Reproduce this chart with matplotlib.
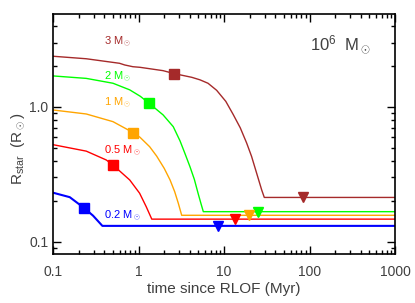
import matplotlib
matplotlib.use("Agg")
import matplotlib.pyplot as plt
from matplotlib.ticker import LogLocator, FixedLocator, NullFormatter, FixedFormatter

plt.rcParams['font.family'] = ['Liberation Sans', 'DejaVu Sans']
plt.rcParams['mathtext.fontset'] = 'custom'
plt.rcParams['mathtext.rm'] = 'Liberation Sans'
plt.rcParams['mathtext.it'] = 'Liberation Sans'

# ---- data ----
masses = ["3", "2", "1", "0.5", "0.2"]
colors = ["#A52A2A", "#00FF00", "#FFA500", "#FF0000", "#0000FF"]

t_3 = [0.1, 0.245, 0.6, 0.69, 0.86, 1.04, 1.94, 2.6, 4.2, 5.24, 6.5, 8.2, 10.5, 12.8, 15.5, 18.4, 21.0, 24.1, 27.6, 29.6, 1000]
r_3 = [2.38, 2.28, 2.11, 2.05, 1.99, 1.97, 1.86, 1.77, 1.66, 1.59, 1.50, 1.33, 1.10, 0.88, 0.70, 0.54, 0.43, 0.322, 0.242, 0.213, 0.213]

t_2 = [0.1, 0.245, 0.503, 0.789, 1.05, 1.33, 1.94, 2.55, 3.06, 3.5, 4.0, 4.5, 5.0, 5.4, 5.73, 1000]
r_2 = [1.70, 1.63, 1.50, 1.34, 1.20, 1.065, 0.873, 0.714, 0.560, 0.45, 0.36, 0.29, 0.226, 0.19, 0.167, 0.167]

t_1 = [0.1, 0.245, 0.503, 0.87, 1.04, 1.35, 1.63, 2.0, 2.34, 2.65, 2.92, 3.2, 1000]
r_1 = [0.95, 0.887, 0.778, 0.644, 0.596, 0.507, 0.432, 0.35, 0.287, 0.235, 0.193, 0.157, 0.157]

t_05 = [0.1, 0.245, 0.42, 0.5, 0.79, 1.03, 1.23, 1.43, 1000]
r_05 = [0.525, 0.47, 0.404, 0.372, 0.287, 0.229, 0.182, 0.147, 0.147]

t_02 = [0.1, 0.157, 0.228, 0.294, 0.378, 1000]
r_02 = [0.231, 0.214, 0.179, 0.156, 0.131, 0.131]

sq_t = [2.6, 1.33, 0.87, 0.5, 0.228]
sq_r = [1.77, 1.065, 0.644, 0.372, 0.179]

tri_t = [83, 25.2, 19.4, 13.4, 8.4]
tri_r = [0.213, 0.167, 0.157, 0.147, 0.131]

label_y = [3.04, 1.67, 1.07, 0.474, 0.156]
label_x = 0.39

times = [t_3, t_2, t_1, t_05, t_02]
radii = [r_3, r_2, r_1, r_05, r_02]
lws = [1.0, 1.0, 1.0, 1.0, 1.5]

fig = plt.figure(figsize=(4.15, 3.03), dpi=100)
ax = fig.add_axes([53/415, 1-254/303, (395-53)/415, (254-14)/303])

for t, r, c, lw in zip(times, radii, colors, lws):
    ax.plot(t, r, color=c, lw=lw)
for i, c in enumerate(colors):
    ax.plot(sq_t[i], sq_r[i], marker='s', ms=7, color=c, ls='none')
    ax.plot(tri_t[i], tri_r[i], marker='v', ms=6.5, color=c, ls='none')
    ax.text(label_x, label_y[i], masses[i] + r' M$_\odot$', color=c,
            fontsize=8, ha='left', va='center')

ax.text(0.842, 0.87, r'10$^6$  M$_\odot$', transform=ax.transAxes,
        fontsize=12, ha='center', va='center', color='#404040')

ax.set_xscale('log')
ax.set_yscale('log')
ax.set_xlim(0.1, 1000)
ax.set_ylim(0.081, 4.9)

ax.xaxis.set_major_locator(FixedLocator([0.1, 1, 10, 100, 1000]))
ax.xaxis.set_major_formatter(FixedFormatter(['0.1', '1', '10', '100', '1000']))
ax.xaxis.set_minor_locator(LogLocator(base=10, subs=range(2, 10), numticks=20))
ax.xaxis.set_minor_formatter(NullFormatter())
ax.yaxis.set_major_locator(FixedLocator([0.1, 1.0]))
ax.yaxis.set_major_formatter(FixedFormatter(['0.1', '1.0']))
ax.yaxis.set_minor_locator(LogLocator(base=10, subs=range(2, 10), numticks=20))
ax.yaxis.set_minor_formatter(NullFormatter())

ax.tick_params(which='both', direction='in', top=True, right=True,
               labelsize=10, labelcolor='#404040', width=1.0)
ax.tick_params(which='major', length=6)
ax.tick_params(which='minor', length=3)
ax.tick_params(axis='x', pad=8)
for s in ax.spines.values():
    s.set_linewidth(1.2)

ax.set_xlabel('time since RLOF (Myr)', fontsize=11, color='#404040', labelpad=2)
ax.set_ylabel(r'R$_{\rm star}$  (R$_\odot$)', fontsize=11, color='#404040')
ax.yaxis.set_label_coords(-0.075, 0.44)

fig.savefig('out.png', dpi=100)
